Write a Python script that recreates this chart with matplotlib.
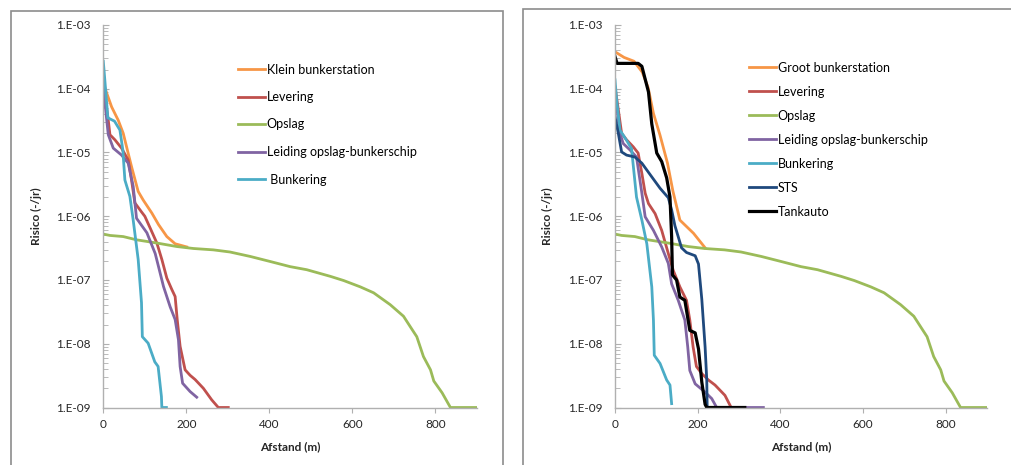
import matplotlib
matplotlib.use("Agg")
import matplotlib.pyplot as plt
from matplotlib.patches import Rectangle
from matplotlib.ticker import FixedLocator, LogLocator, FuncFormatter, NullFormatter
import math

plt.rcParams["font.family"] = ["Lato", "DejaVu Sans"]

# Opslag (same curve in both panels)
opslag_x = [0, 16, 48, 80, 129, 177, 217, 265, 305, 354, 402, 450, 490, 547, 579,
            619, 651, 691, 723, 744, 755, 771, 788, 796, 816, 836, 900]
opslag_y = [5.25e-7, 5.0e-7, 4.8e-7, 4.27e-7, 3.8e-7, 3.35e-7, 3.12e-7, 2.97e-7,
            2.75e-7, 2.34e-7, 1.95e-7, 1.62e-7, 1.45e-7, 1.14e-7, 9.8e-8, 7.8e-8,
            6.3e-8, 4.1e-8, 2.7e-8, 1.66e-8, 1.29e-8, 6.3e-9, 3.9e-9, 2.6e-9,
            1.7e-9, 1e-9, 1e-9]

# left panel
klein_x = [0, 4, 20, 36, 48, 56, 68, 84, 96, 117, 133, 153, 173, 201]
klein_y = [1.35e-4, 1.02e-4, 5.2e-5, 3.2e-5, 2.0e-5, 1.23e-5, 6.0e-6, 2.45e-6,
           1.8e-6, 1.12e-6, 7.4e-7, 4.8e-7, 3.7e-7, 3.3e-7]
lev1_x = [0, 4, 12, 16, 28, 44, 60, 68, 76, 92, 100, 113, 129, 141, 153, 165, 173,
          178, 185, 197, 209, 221, 241, 261, 277, 301]
lev1_y = [1.1e-4, 7.6e-5, 3.2e-5, 1.9e-5, 1.58e-5, 1.17e-5, 7.6e-6, 3.7e-6, 1.62e-6,
          1.17e-6, 1.0e-6, 6.5e-7, 3.8e-7, 2.1e-7, 1.07e-7, 7.1e-8, 5.5e-8, 2.4e-8,
          9.1e-9, 3.9e-9, 3.2e-9, 2.75e-9, 2.0e-9, 1.32e-9, 1e-9, 1e-9]
leid1_x = [0, 4, 12, 24, 44, 60, 72, 80, 105, 125, 133, 145, 161, 173, 181, 185,
           191, 209, 225]
leid1_y = [1.02e-4, 5.9e-5, 1.9e-5, 1.17e-5, 9.1e-6, 6.8e-6, 2.95e-6, 9.3e-7, 5.5e-7,
           2.6e-7, 1.62e-7, 7.9e-8, 3.8e-8, 2.4e-8, 1.15e-8, 4.4e-9, 2.4e-9,
           1.78e-9, 1.45e-9]
bunk1_x = [0, 3, 11, 27, 40, 47, 52, 64, 72, 84, 92, 94, 108, 124, 132, 140, 141, 152]
bunk1_y = [2.7e-4, 1.55e-4, 3.5e-5, 3.1e-5, 2.25e-5, 1.1e-5, 3.7e-6, 2.05e-6, 8.7e-7,
           2.1e-7, 4.4e-8, 1.29e-8, 1.02e-8, 5.2e-9, 4.4e-9, 1.48e-9, 1e-9, 1e-9]

# right panel
groot_x = [0, 22, 46, 66, 80, 93, 109, 127, 140, 153, 157, 190, 218]
groot_y = [3.8e-4, 3.1e-4, 2.7e-4, 1.82e-4, 1.05e-4, 4.1e-5, 1.86e-5, 6.8e-6, 2.5e-6,
           1.12e-6, 8.7e-7, 5.4e-7, 3.2e-7]
lev2_x = [0, 8, 16, 28, 44, 56, 65, 73, 81, 97, 113, 129, 141, 157, 173, 181, 189,
          197, 210, 226, 242, 266, 281, 300]
lev2_y = [1.07e-4, 4.7e-5, 2.0e-5, 1.58e-5, 1.23e-5, 9.8e-6, 4.7e-6, 2.3e-6, 1.58e-6,
          1.1e-6, 6.0e-7, 2.6e-7, 1.41e-7, 7.8e-8, 4.8e-8, 2.35e-8, 8.9e-9, 4.4e-9,
          3.4e-9, 2.7e-9, 2.25e-9, 1.55e-9, 1e-9, 1e-9]
leid2_x = [0, 12, 20, 36, 52, 65, 73, 93, 113, 129, 137, 153, 169, 176, 181, 194,
           218, 234, 246, 359]
leid2_y = [8.5e-5, 2.0e-5, 1.38e-5, 1.1e-5, 8.5e-6, 2.3e-6, 9.8e-7, 6.0e-7, 3.3e-7,
           1.82e-7, 8.7e-8, 4.8e-8, 2.35e-8, 8.9e-9, 3.8e-9, 2.35e-9, 1.74e-9,
           1.38e-9, 1e-9, 1e-9]
bunk2_x = [0, 4, 12, 28, 40, 52, 65, 77, 89, 93, 95, 109, 125, 133, 137]
bunk2_y = [1.38e-4, 6.6e-5, 2.25e-5, 1.55e-5, 1.15e-5, 2.0e-6, 8.7e-7, 3.7e-7, 7.8e-8,
           2.35e-8, 6.6e-9, 4.9e-9, 2.7e-9, 2.25e-9, 1.15e-9]
sts_x = [0, 8, 16, 28, 48, 65, 85, 109, 129, 137, 145, 161, 173, 194, 202, 210, 218,
         222, 223]
sts_y = [3.6e-5, 2.0e-5, 1.02e-5, 9.1e-6, 8.5e-6, 6.8e-6, 4.5e-6, 2.75e-6, 1.95e-6,
         1.26e-6, 7.1e-7, 3.2e-7, 2.7e-7, 2.4e-7, 1.78e-7, 5.0e-8, 8.9e-9, 2.7e-9, 1e-9]
tank_x = [0, 5, 56, 65, 81, 89, 101, 113, 125, 133, 137, 139, 149, 157, 169, 181, 194,
          202, 210, 218, 222, 314]
tank_y = [3.2e-4, 2.5e-4, 2.5e-4, 2.25e-4, 8.9e-5, 2.8e-5, 9.8e-6, 7.2e-6, 4.0e-6,
          2.0e-6, 4.8e-7, 1.2e-7, 1.0e-7, 5.4e-8, 4.8e-8, 1.62e-8, 1.48e-8, 8.3e-9,
          2.5e-9, 1.12e-9, 1e-9, 1e-9]

x_ticks = [0, 200, 400, 600, 800]
y_ticks = [1e-9, 1e-8, 1e-7, 1e-6, 1e-5, 1e-4, 1e-3]

ORANGE, RED, GREEN = "#f79646", "#c0504d", "#9bbb59"
PURPLE, CYAN, NAVY = "#8064a2", "#4bacc6", "#1f497d"
AXC = "#b0b0b0"
TXT = "#262626"

W, H = 1011, 465
fig = plt.figure(figsize=(W / 100, H / 100), dpi=100)

# panel frames (Excel chart areas)
fig.patches.append(Rectangle((10.5 / W, -0.05), 492 / W, 1 - 10.5 / H + 0.05,
                             transform=fig.transFigure, fill=False,
                             edgecolor="#8c8c8c", linewidth=1.2))
fig.patches.append(Rectangle((522.5 / W, -0.05), 500 / W, 1 - 9.5 / H + 0.05,
                             transform=fig.transFigure, fill=False,
                             edgecolor="#8c8c8c", linewidth=1.2))

bottom = 1 - 407.5 / H
height = (407.5 - 25) / H
ax1 = fig.add_axes([103.3 / W, bottom, (477 - 103.3) / W, height])
ax2 = fig.add_axes([615 / W, bottom, (987 - 615) / W, height])

lw = 2.0
ax1.plot(klein_x, klein_y, color=ORANGE, lw=lw, label="Klein bunkerstation")
ax1.plot(lev1_x, lev1_y, color=RED, lw=lw, label="Levering")
ax1.plot(opslag_x, opslag_y, color=GREEN, lw=lw, label="Opslag")
ax1.plot(leid1_x, leid1_y, color=PURPLE, lw=lw, label="Leiding opslag-bunkerschip")
ax1.plot(bunk1_x, bunk1_y, color=CYAN, lw=lw, label=" Bunkering")

ax2.plot(groot_x, groot_y, color=ORANGE, lw=lw, label="Groot bunkerstation")
ax2.plot(lev2_x, lev2_y, color=RED, lw=lw, label="Levering")
ax2.plot(opslag_x, opslag_y, color=GREEN, lw=lw, label="Opslag")
ax2.plot(leid2_x, leid2_y, color=PURPLE, lw=lw, label="Leiding opslag-bunkerschip")
ax2.plot(bunk2_x, bunk2_y, color=CYAN, lw=lw, label="Bunkering")
ax2.plot(sts_x, sts_y, color=NAVY, lw=lw, label="STS")
ax2.plot(tank_x, tank_y, color="black", lw=2.3, label="Tankauto")

for ax, ylx in [(ax1, -0.164), (ax2, -0.167)]:
    ax.set_yscale("log")
    ax.set_xlim(0, 900)
    ax.set_ylim(1e-9, 1e-3)
    ax.xaxis.set_major_locator(FixedLocator(x_ticks))
    ax.yaxis.set_major_locator(FixedLocator(y_ticks))
    ax.yaxis.set_minor_locator(LogLocator(base=10, subs=range(2, 10)))
    ax.yaxis.set_minor_formatter(NullFormatter())
    ax.yaxis.set_major_formatter(FuncFormatter(
        lambda v, p: "1.E-%02d" % round(-math.log10(v))))
    for s in ["top", "right"]:
        ax.spines[s].set_visible(False)
    for s in ["left", "bottom"]:
        ax.spines[s].set_color(AXC)
        ax.spines[s].set_linewidth(1.0)
    ax.tick_params(axis="y", which="major", direction="in", length=4, width=0.8,
                   color=AXC, labelsize=8.5, pad=9, labelcolor=TXT)
    ax.tick_params(axis="y", which="minor", direction="in", length=3.5, width=0.6,
                   color=AXC)
    ax.tick_params(axis="x", direction="out", length=3.5, width=0.8, color=AXC,
                   labelsize=8.5, pad=5, labelcolor=TXT)
    ax.set_xlabel("Afstand (m)", fontsize=8.5, fontweight="bold", color=TXT)
    ax.set_ylabel("Risico (-/jr)", fontsize=8.5, fontweight="bold", color=TXT)
    ax.xaxis.set_label_coords(0.5, -0.088)
    ax.yaxis.set_label_coords(ylx, 0.5)

ax1.legend(loc="upper left", bbox_to_anchor=(238 / W, 1 - 63.5 / H),
           bbox_transform=fig.transFigure, frameon=False, fontsize=9,
           borderpad=0, borderaxespad=0, handlelength=2.15, handletextpad=0.15,
           labelspacing=1.24)
ax2.legend(loc="upper left", bbox_to_anchor=(749 / W, 1 - 61.5 / H),
           bbox_transform=fig.transFigure, frameon=False, fontsize=9,
           borderpad=0, borderaxespad=0, handlelength=2.15, handletextpad=0.15,
           labelspacing=0.96)

fig.savefig("out.png", dpi=100)
